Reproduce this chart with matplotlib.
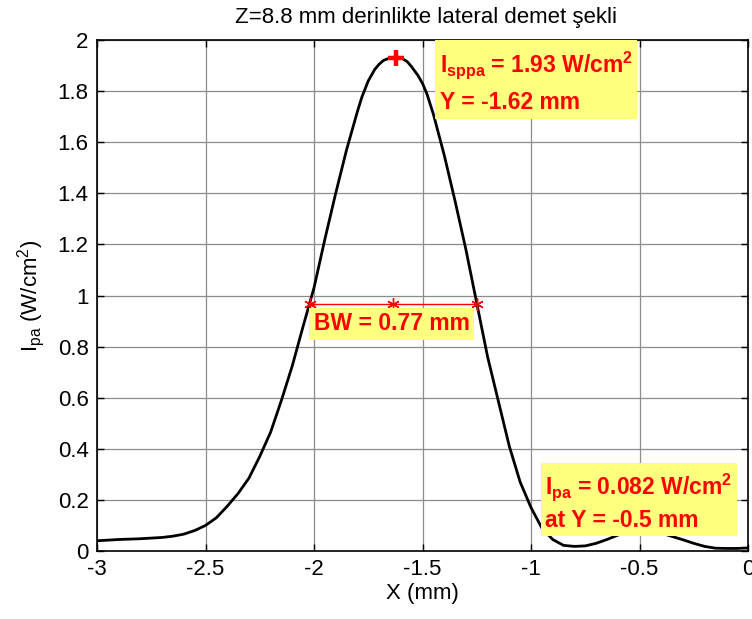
import matplotlib
matplotlib.use("Agg")
import matplotlib.pyplot as plt
from matplotlib.ticker import FormatStrFormatter

plt.rcParams['font.family'] = ['Liberation Sans', 'DejaVu Sans']
plt.rcParams['mathtext.fontset'] = 'custom'
plt.rcParams['mathtext.rm'] = 'Liberation Sans'
plt.rcParams['mathtext.it'] = 'Liberation Sans:italic'
plt.rcParams['mathtext.bf'] = 'Liberation Sans:bold'

# lateral beam profile (X in mm, intensity in W/cm^2)
x_mm = [-3.0, -2.9, -2.8, -2.7, -2.65, -2.6, -2.55, -2.5, -2.45, -2.4,
        -2.35, -2.3, -2.25, -2.2, -2.15, -2.1, -2.05, -2.0, -1.95, -1.9,
        -1.85, -1.8, -1.78, -1.75, -1.72, -1.7, -1.68, -1.65, -1.62, -1.6,
        -1.57, -1.55, -1.52, -1.5, -1.48, -1.45, -1.4, -1.35, -1.3, -1.25,
        -1.2, -1.15, -1.1, -1.05, -1.0, -0.95, -0.9, -0.85, -0.8, -0.75,
        -0.7, -0.65, -0.6, -0.55, -0.5, -0.45, -0.4, -0.35, -0.3, -0.25,
        -0.2, -0.15, -0.1, -0.05, 0.0]
i_pa = [0.040, 0.045, 0.048, 0.053, 0.058, 0.066, 0.080, 0.100, 0.130, 0.175,
        0.225, 0.285, 0.370, 0.465, 0.590, 0.725, 0.880, 1.030, 1.220, 1.400,
        1.570, 1.720, 1.775, 1.840, 1.885, 1.905, 1.920, 1.930, 1.934, 1.931,
        1.915, 1.895, 1.860, 1.830, 1.790, 1.710, 1.550, 1.370, 1.180, 0.970,
        0.760, 0.585, 0.410, 0.270, 0.170, 0.090, 0.045, 0.022, 0.018, 0.020,
        0.030, 0.045, 0.062, 0.076, 0.082, 0.078, 0.070, 0.057, 0.044, 0.030,
        0.018, 0.011, 0.010, 0.010, 0.012]

peak_x, peak_val = -1.62, 1.93
bw_left, bw_right = -2.02, -1.25
side_x, side_val = -0.5, 0.082

fig = plt.figure(figsize=(7.52, 6.19), dpi=100)
ax = fig.add_axes([97 / 752, 68 / 619, 651 / 752, 511 / 619])

ax.plot(x_mm, i_pa, color='black', lw=2.0, zorder=3)

# peak marker
ax.plot([peak_x], [peak_val], marker='+', color='red', ms=11, mew=3.2, zorder=4)

# -6 dB beam width
half = peak_val / 2
bw_mid = (bw_left + bw_right) / 2
ax.plot([bw_left, bw_mid, bw_right], [half] * 3, color='red', lw=1.0,
        marker=(6, 2, 0), ms=9, mew=1.0, zorder=4)

box = dict(boxstyle='square,pad=0.2', fc='#ffff80', ec='none')
txt = dict(color='red', fontsize=16.5, fontweight='bold', ha='left', va='top',
           zorder=5, bbox=box)

ax.text(-2.0, 0.935, 'BW = %.2f mm' % (bw_right - bw_left), **txt)
ax.text(-1.42, 1.965,
        r'$\mathbf{I_{sppa}}$ = %.2f W/cm$^\mathbf{2}$' % peak_val + '\n'
        + 'Y = %.2f mm' % peak_x, linespacing=1.6, **txt)
ax.text(-0.935, 0.31,
        r'$\mathbf{I_{pa}}$ = %.3f W/cm$^\mathbf{2}$' % side_val + '\n'
        + 'at Y = %.1f mm' % side_x, linespacing=1.3, **txt)

ax.set_xlim(-3, 0)
ax.set_ylim(0, 2)
ax.set_xticks([-3, -2.5, -2, -1.5, -1, -0.5, 0])
ax.set_yticks([0, 0.2, 0.4, 0.6, 0.8, 1, 1.2, 1.4, 1.6, 1.8, 2])
ax.xaxis.set_major_formatter(FormatStrFormatter('%g'))
ax.yaxis.set_major_formatter(FormatStrFormatter('%g'))
ax.tick_params(direction='in', length=5, width=1, labelsize=16,
               top=True, right=True, pad=6)
ax.grid(True, color='#8c8c8c', lw=0.9)
for s in ax.spines.values():
    s.set_linewidth(1.2)

ax.set_xlabel('X (mm)', fontsize=16, labelpad=2)
ax.set_ylabel(r'I$_{\mathrm{pa}}$ (W/cm$^2$)', fontsize=16, labelpad=8)
fig.text(0.567, 0.988, u'Z=8.8 mm derinlikte lateral demet şekli',
         ha='center', va='top', fontsize=16)

fig.savefig('out.png', dpi=100)
